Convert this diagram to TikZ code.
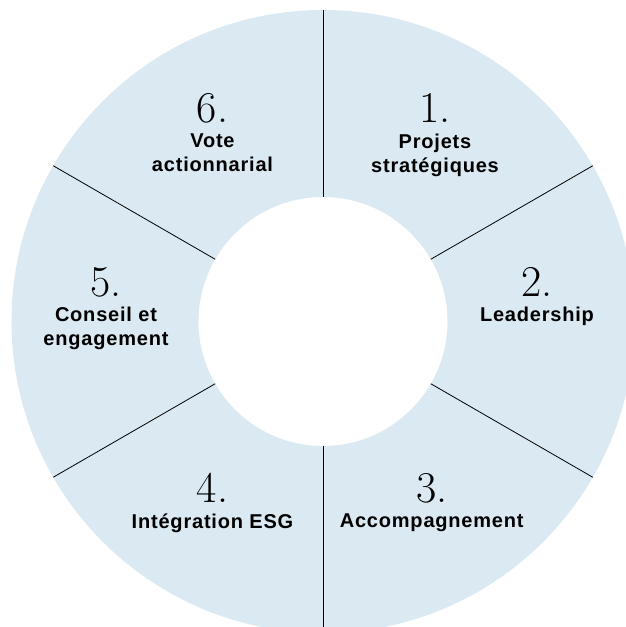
\documentclass[tikz,border=0pt]{standalone}
\usepackage{fontspec}
\newfontfamily\labfont{Liberation Sans}[LetterSpace=4]
\usepackage{tikz}
\usetikzlibrary{positioning}
\definecolor{paleblue}{RGB}{218,233,242}

\begin{document}
\begin{tikzpicture}[x=1pt,y=1pt,
  num/.style={font=\fontsize{44}{44}\selectfont, inner sep=0pt, anchor=base},
  lab/.style={font=\labfont\bfseries\fontsize{20}{24}\selectfont, align=center, inner sep=0pt}]
\useasboundingbox (-323,-305.5) rectangle (303,321.5);
\clip (-323,-305.5) rectangle (303,321.5);
%
\fill[paleblue, even odd rule] (0,0) circle (311.5) (0,0) circle (124.5);
\foreach \a in {90,30,-30,-90,-150,150}
  \draw[line width=0.8pt] (\a:124.5) -- (\a:311.5);
%
\node[num] (n1) at (112,198.5) {1.};
\node[lab, below=11pt of n1.base] (l1) {Projets\\stratégiques};
\node[num] (n2) at (214,25.5) {2.};
\node[lab, below=11pt of n2.base] (l2) {Leadership};
\node[num] (n3) at (108.7,-180.8) {3.};
\node[lab, below=11pt of n3.base] (l3) {Accompagnement};
\node[num] (n4) at (-110.5,-180.8) {4.};
\node[lab, below=11pt of n4.base] (l4) {Intégration ESG};
\node[num] (n5) at (-217,25.5) {5.};
\node[lab, below=11pt of n5.base] (l5) {Conseil et\\engagement};
\node[num] (n6) at (-110.5,198.5) {6.};
\node[lab, below=11pt of n6.base] (l6) {Vote\\actionnarial};
\end{tikzpicture}
\end{document}
